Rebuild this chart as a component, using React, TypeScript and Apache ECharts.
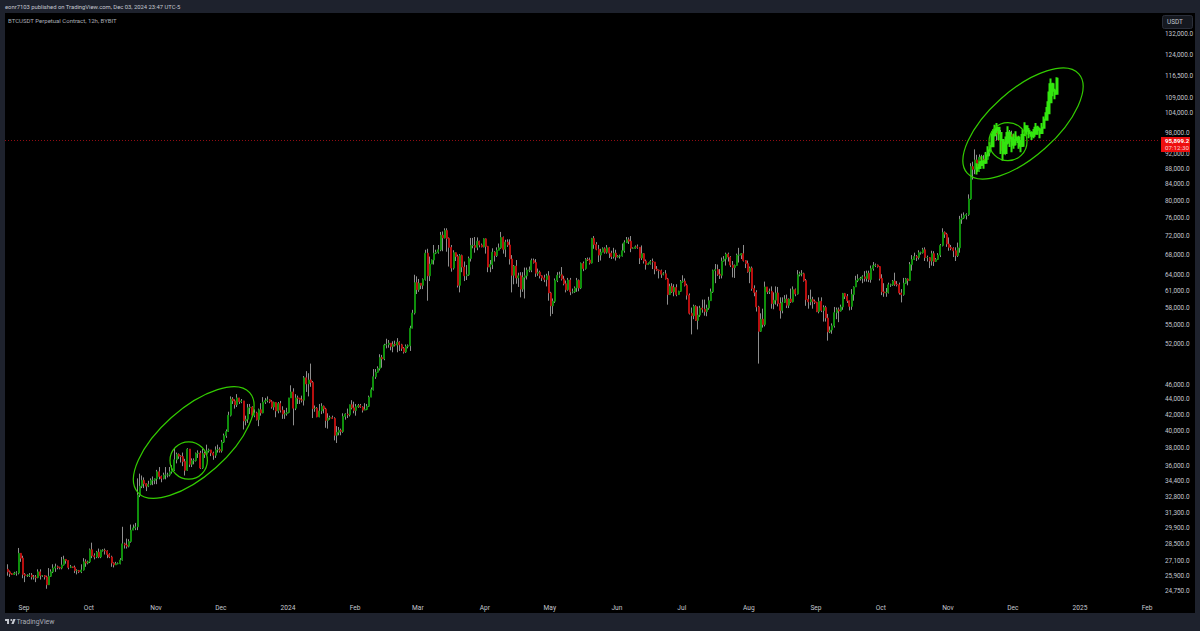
import React, { useEffect, useRef } from "react";
import * as echarts from "echarts";

const FIRST_DAY = "2023-08-24";
const closes = [
  /* Aug 23 */ 26.2,26.05,26.0,26.1,26.1,27.7,27.3,26.0,
  /* Sep 23 */ 25.9,25.9,25.95,25.8,25.8,25.75,26.2,25.9,25.9,25.8,25.2,25.85,26.2,26.5,26.6,26.55,26.5,26.75,27.2,27.1,26.55,26.6,26.55,26.3,26.3,26.2,26.35,27.0,26.9,27.0,
  /* Oct 23 */ 28.0,27.5,27.4,27.8,27.4,27.95,27.95,27.9,27.6,27.4,26.9,26.75,26.85,26.85,27.15,28.5,28.4,28.3,28.7,29.7,29.9,30.0,33.0,33.9,34.5,34.15,33.9,34.1,34.5,34.5,34.65,
  /* Nov 23 */ 35.4,34.9,34.7,35.05,35.05,35.05,35.4,35.6,36.7,37.3,37.1,37.05,36.5,35.55,37.9,36.2,36.6,36.6,37.4,37.45,35.8,37.4,37.3,37.7,37.8,37.45,37.2,37.8,37.85,37.7,
  /* Dec 23 */ 38.7,39.45,39.95,41.95,44.05,43.8,43.3,44.2,43.7,43.8,41.25,41.45,42.9,43.0,41.95,42.25,41.4,42.65,42.25,43.65,43.85,43.95,43.7,43.0,43.6,42.5,43.45,42.6,42.1,42.15,42.3,
  /* Jan 24 */ 44.2,45.0,42.85,44.2,44.15,43.95,43.9,46.95,46.1,46.65,46.3,42.8,42.85,41.75,42.5,43.1,42.75,41.3,41.6,41.65,41.55,39.5,39.85,40.1,39.95,41.8,42.1,42.0,43.3,42.9,42.55,
  /* Feb 24 */ 43.05,43.2,43.0,42.6,42.7,43.1,44.3,45.3,47.1,47.75,48.3,49.9,49.7,51.8,51.9,52.1,51.6,51.9,51.8,52.25,51.85,51.3,50.75,51.6,51.7,54.5,57.05,62.5,61.2,
  /* Mar 24 */ 62.4,62.0,63.1,68.3,63.8,66.1,66.9,68.3,68.5,69.0,72.1,71.5,73.1,71.4,69.5,65.3,68.4,67.6,62.0,67.8,65.5,63.8,64.0,67.2,69.9,69.9,69.5,70.8,70.0,69.6,71.3,
  /* Apr 24 */ 69.7,65.5,66.0,68.5,67.8,68.9,69.4,71.6,69.1,70.6,70.0,67.1,63.9,65.7,63.4,63.8,61.3,63.5,63.8,64.9,64.9,66.8,66.4,64.3,64.5,63.8,63.4,63.1,63.8,60.6,
  /* May 24 */ 58.3,59.1,62.9,63.9,64.0,63.2,62.3,61.2,63.0,60.8,60.8,61.5,62.9,61.5,66.2,65.2,67.0,66.9,66.3,71.4,70.1,69.1,67.9,68.5,69.2,68.5,69.4,68.3,67.6,68.3,67.5,
  /* Jun 24 */ 67.7,67.7,68.8,70.5,71.1,70.8,69.3,69.3,69.6,69.5,67.3,68.2,66.7,66.0,66.2,66.6,66.5,65.1,64.9,64.8,64.1,64.2,63.2,60.3,61.8,60.8,61.6,60.3,60.9,62.7,
  /* Jul 24 */ 62.8,62.0,60.2,57.0,56.6,58.2,55.8,56.7,57.9,57.7,57.3,57.9,59.2,60.8,64.8,65.0,64.1,63.9,66.7,67.1,68.1,67.5,65.9,65.4,65.8,67.9,67.9,68.2,66.8,66.2,64.6,
  /* Aug 24 */ 65.3,61.4,60.7,58.1,54.0,56.0,55.1,61.7,60.8,60.9,58.7,59.3,60.6,58.7,57.5,58.9,59.5,58.4,59.5,59.0,61.2,60.4,64.0,64.2,64.2,62.9,59.4,59.0,59.4,59.1,58.9,
  /* Sep 24 */ 57.3,59.1,57.5,58.0,56.2,53.9,54.2,54.9,57.1,57.6,57.4,58.1,60.5,60.0,59.2,58.2,60.3,61.7,62.9,63.2,63.3,63.6,63.3,64.3,63.1,65.2,65.8,65.9,65.6,63.3,
  /* Oct 24 */ 60.8,60.6,60.7,62.1,62.1,62.8,62.2,62.1,60.6,60.3,62.4,63.2,62.9,66.0,67.0,67.6,67.4,68.4,68.4,69.0,67.4,67.4,66.7,68.2,66.6,67.0,67.9,69.9,72.7,72.3,70.2,
  /* Nov 24 */ 69.5,69.3,68.8,67.8,69.4,75.6,75.9,76.5,76.7,80.4,88.6,87.9,90.4,87.3,91.1,90.6,89.8,90.5,92.3,94.3,98.4,98.9,97.7,98.0,93.0,91.9,95.9,95.6,97.5,96.4,
  /* Dec 24 */ 97.2,95.9,95.9,
];
const highs = [
  26.8,26.3,26.1,26.2,26.25,28.15,27.55,27.5,
  26.1,26.0,26.1,26.1,25.95,25.95,26.4,26.4,25.95,25.95,25.9,26.5,26.4,26.8,26.85,26.7,26.6,27.4,27.5,27.2,27.1,26.75,26.6,26.7,26.4,26.35,26.8,27.3,27.2,27.1,
  28.1,28.6,27.7,27.9,28.1,28.0,28.05,28.1,27.95,27.7,27.5,26.95,27.0,26.95,27.3,30.0,28.6,28.95,28.9,30.2,30.2,30.35,34.7,35.2,35.0,34.8,34.2,34.45,34.7,34.9,34.7,
  35.6,35.9,35.0,35.3,35.9,35.3,35.9,36.1,37.95,37.5,37.4,37.2,37.5,36.8,38.0,37.9,36.85,36.85,37.5,37.75,37.7,37.9,37.6,38.4,37.95,37.6,37.6,38.2,38.4,38.1,
  38.95,39.7,40.2,42.4,44.4,44.3,44.0,44.7,44.0,44.05,43.8,41.9,43.4,43.4,43.1,42.7,42.4,42.8,43.5,44.3,44.2,44.4,44.0,43.9,43.7,43.6,43.65,43.8,43.1,42.6,42.9,
  44.2,45.9,45.5,44.7,44.5,44.2,44.5,47.2,47.9,47.6,49.0,46.5,43.2,43.0,43.4,43.5,43.2,42.9,42.2,41.9,41.9,41.7,40.6,40.5,40.3,42.2,42.2,42.8,43.3,43.9,43.7,
  43.4,43.4,43.4,43.1,43.5,43.4,44.5,45.6,48.2,48.2,48.6,50.4,50.3,52.0,52.8,52.6,52.1,52.4,52.5,52.9,52.4,52.0,51.5,51.9,51.9,54.9,57.6,64.0,63.7,
  63.2,62.4,63.3,69.0,69.2,67.6,67.0,70.0,69.0,70.0,72.8,72.9,73.6,73.6,71.6,70.0,68.9,68.2,68.0,68.1,68.0,66.6,65.9,67.6,71.5,71.5,71.7,71.6,70.9,70.3,71.4,
  71.4,69.8,66.9,69.3,68.7,69.5,70.3,72.8,71.8,71.1,71.2,71.2,67.9,65.9,66.9,64.4,64.5,64.5,65.4,65.4,65.6,67.2,67.2,67.1,65.2,64.8,63.9,64.0,64.2,64.7,
  60.8,59.6,63.3,64.5,64.6,65.5,63.8,62.9,63.4,63.4,61.4,61.8,63.4,63.1,66.4,66.6,67.3,67.4,67.4,71.5,71.9,70.6,70.0,69.2,69.5,69.5,70.0,69.5,68.8,69.4,69.0,
  67.9,68.0,70.3,71.0,71.7,71.6,71.9,69.5,69.9,70.1,69.5,69.9,68.3,67.0,66.4,66.9,67.2,65.7,65.7,65.0,65.0,64.5,64.9,63.4,62.3,62.4,62.2,62.2,61.0,63.0,
  63.9,63.3,62.3,60.5,58.0,58.5,58.4,58.2,58.3,59.4,59.4,58.5,59.9,61.4,65.0,66.1,66.0,65.1,67.4,67.7,68.4,68.4,67.7,66.7,66.0,68.2,69.4,68.3,70.0,66.9,66.8,
  65.6,65.6,62.0,61.1,58.3,57.0,57.8,62.7,61.7,61.4,61.8,60.7,61.8,61.7,59.8,59.8,60.2,60.3,59.6,61.4,61.8,61.4,64.9,64.6,64.9,64.4,63.2,60.2,61.2,59.9,59.4,
  59.0,59.8,59.8,58.4,58.3,56.9,54.8,55.3,58.1,58.0,58.0,58.5,60.6,60.6,60.4,59.2,61.3,61.8,63.8,64.1,63.6,63.9,64.7,64.8,64.8,65.8,66.5,66.2,66.0,65.7,
  64.1,62.4,61.5,62.5,62.3,63.0,64.4,62.8,62.5,61.3,63.4,63.4,63.3,66.5,67.9,68.4,67.9,68.9,68.6,69.4,69.5,67.8,67.5,68.8,68.7,67.3,68.3,70.2,73.6,72.9,72.6,
  71.6,70.0,69.5,69.5,70.5,76.4,76.9,77.2,77.0,81.5,89.5,89.9,93.3,91.8,91.9,91.8,91.7,92.6,94.0,94.9,99.0,99.8,99.0,98.7,98.9,94.7,96.7,96.6,98.9,98.7,
  97.8,98.2,96.6,
];
const lows = [
  25.9,25.8,25.95,25.95,25.9,26.0,27.0,25.7,
  25.4,25.8,25.8,25.6,25.6,25.4,25.7,25.6,25.8,25.6,24.9,25.2,25.8,26.1,26.2,26.4,26.4,26.4,26.7,26.85,26.4,26.5,26.5,26.1,26.0,26.1,26.1,26.3,26.6,26.8,
  26.9,27.3,27.2,27.3,27.3,27.3,27.85,27.6,27.3,27.3,26.6,26.55,26.8,26.8,26.8,27.1,28.1,28.1,28.2,28.6,29.7,29.7,29.7,32.8,33.7,33.7,33.4,33.8,34.0,34.0,34.1,
  34.1,34.6,34.3,34.6,34.6,34.8,34.9,35.2,35.5,36.3,36.8,36.4,36.0,35.0,35.5,35.9,35.9,36.2,36.5,36.9,35.7,35.7,36.9,37.2,37.5,37.1,36.7,36.9,37.5,37.5,
  37.5,38.6,39.2,39.9,41.8,43.4,42.8,43.0,43.4,43.5,40.2,40.7,41.0,42.1,41.7,41.7,41.3,40.6,41.9,42.2,43.4,43.6,43.5,42.8,42.6,41.7,42.2,42.3,41.5,41.5,41.9,
  42.2,44.2,40.7,42.6,43.4,43.4,43.6,43.2,45.0,44.4,45.7,41.6,42.4,41.7,41.7,42.1,42.2,40.4,40.3,41.4,41.5,38.9,38.6,39.5,39.5,39.8,41.4,41.6,41.8,42.7,42.2,
  41.9,42.9,42.9,42.3,42.6,42.6,43.0,44.3,45.2,46.8,47.7,48.0,48.4,49.5,51.3,51.4,51.0,50.7,51.6,50.7,50.9,50.9,50.5,50.6,51.3,50.9,54.5,56.8,60.4,
  60.8,61.3,61.3,62.9,59.2,62.8,66.2,66.0,68.1,68.2,68.7,68.7,71.4,68.6,65.6,64.6,65.0,66.7,61.6,60.7,64.5,62.8,63.0,63.8,66.6,69.3,68.4,68.9,69.5,69.5,69.5,
  68.2,64.5,64.5,65.1,66.6,67.5,68.9,69.2,68.2,67.5,69.6,66.0,60.7,62.2,62.3,61.7,59.8,60.8,59.6,63.1,64.5,64.5,66.2,63.6,63.8,63.3,62.8,62.6,61.8,59.2,
  56.5,56.9,58.8,62.6,63.4,62.9,62.0,60.7,61.0,60.2,60.5,60.6,60.8,60.9,61.3,64.7,65.0,66.7,66.0,66.2,69.2,68.9,66.5,66.8,68.8,68.2,68.2,67.3,67.1,67.2,66.8,
  67.4,67.2,67.6,68.4,70.4,70.2,68.5,69.2,69.2,69.2,66.1,66.9,66.2,65.0,65.9,66.0,65.1,64.1,64.7,63.3,63.4,63.9,63.1,58.5,60.7,60.6,60.0,60.0,60.3,60.8,
  62.5,61.8,59.4,56.8,53.5,56.0,55.7,54.3,56.4,57.1,56.6,56.5,57.6,59.3,60.6,62.4,63.8,63.2,63.3,66.6,65.8,66.6,65.5,63.5,63.4,65.8,66.4,67.1,66.6,65.3,64.4,
  62.4,61.0,60.0,57.3,49.0,53.9,54.6,54.8,60.4,60.4,57.8,57.7,58.5,58.2,56.1,57.0,58.8,57.9,57.9,58.8,58.9,60.0,60.3,63.7,63.7,62.7,58.3,57.8,58.4,57.8,58.6,
  57.2,57.0,57.2,55.6,55.6,52.5,53.7,53.6,54.6,56.0,55.5,57.3,57.6,59.5,58.8,57.5,57.6,59.2,61.7,62.6,62.9,62.4,62.7,62.7,62.6,62.5,64.8,65.5,65.4,62.9,
  60.2,59.9,59.9,60.5,61.7,61.9,61.9,61.8,60.3,58.9,60.1,62.3,62.0,62.8,64.8,66.9,66.7,67.0,68.0,68.2,66.7,66.6,65.3,65.8,65.7,66.5,66.9,67.5,69.7,71.5,69.6,
  68.8,68.9,67.5,66.7,67.5,68.4,74.6,75.7,75.6,76.4,80.2,85.2,86.6,86.8,87.2,90.1,89.3,89.4,90.9,91.5,94.2,97.2,95.8,95.7,92.6,90.8,91.7,94.7,95.3,95.7,
  95.9,94.5,93.6,
];

const GHOST_FIRST_DAY = "2024-11-14";
const ghostCloses = [88.2,89.0,89.9,89.6,91.6,93.0,94.2,97.4,98.9,99.6,98.0,96.0,92.3,95.2,98.0,96.5,94.6,96.0,96.6,95.4,94.3,97.4,100.0,98.7,98.0,97.2,97.8,99.6,99.0,98.0,99.6,102.0,104.0,107.5,113.5,111.3,110.3,115.4];
const ghostHighs = [89.5,90.0,91.5,90.5,92.5,94.2,95.3,98.5,100.5,101.0,99.2,97.5,94.0,97.0,100.0,98.5,97.0,97.8,98.5,97.2,96.0,99.0,101.2,100.0,99.5,98.5,99.2,101.0,100.2,99.5,101.0,103.0,106.0,111.0,115.5,114.0,112.0,115.9];
const ghostLows = [86.5,88.0,88.8,88.0,89.8,91.5,93.0,94.0,97.0,98.0,96.0,92.0,90.2,92.0,95.0,94.0,92.5,93.5,94.5,93.5,92.5,94.0,97.5,97.5,96.5,96.0,96.5,98.0,97.5,96.5,98.0,99.5,102.0,104.0,107.5,109.5,108.5,110.5];

const priceTicks = [132000,124000,116500,109000,104000,98000,92000,88000,84000,80000,76000,72000,68000,64000,61000,58000,55000,52000,46000,44000,42000,40000,38000,36000,34400,32800,31300,29900,28500,27100,25900,24750];
const timeTickDates = ["2023-09-01","2023-10-01","2023-11-01","2023-12-01","2024-01-01","2024-02-01","2024-03-01","2024-04-01","2024-05-01","2024-06-01","2024-07-01","2024-08-01","2024-09-01","2024-10-01","2024-11-01","2024-12-01","2025-01-01","2025-02-01"];
const timeTickLabels = ["Sep","Oct","Nov","Dec","2024","Feb","Mar","Apr","May","Jun","Jul","Aug","Sep","Oct","Nov","Dec","2025","Feb"];
const LAST_PRICE = 95899.2;
const LAST_LABEL = "95,899.2";
const COUNTDOWN = "07:12:30";
const PUBLISHED = "eonr7103 published on TradingView.com, Dec 03, 2024 23:47 UTC-5";
const TITLE = "BTCUSDT Perpetual Contract, 12h, BYBIT";

const FONT = "Roboto, 'Liberation Sans', sans-serif";
const FRAME = "#1e222d";
const TEXT = "#c4c7cf";
const ELLIPSE = "#33cc00";
const WICK = "#8e8e8e";
const DAY = 86400000;

const tv = "M14 6H2v6h6v9h6V6zm14 15h-7l6-15h7l-6 15zm-7-9a3 3 0 1 0 0-6 3 3 0 0 0 0 6z";
echarts.graphic.registerShape("tvLogo", echarts.graphic.extendPath(tv, {}) as any);

function rows(first: string, c: number[], h: number[], l: number[], firstOpen: number) {
  const t0 = Date.parse(first + "T12:00:00Z");
  return c.map((v, i) => {
    const o = i === 0 ? firstOpen : c[i - 1];
    return { t: t0 + i * DAY, o: o * 1000, c: v * 1000, h: Math.max(h[i], o, v) * 1000, l: Math.min(l[i], o, v) * 1000 };
  });
}

export default function App() {
  const ref = useRef<HTMLDivElement>(null);
  useEffect(() => {
    const chart = echarts.init(ref.current!, undefined, { renderer: "svg" });
    const candles = rows(FIRST_DAY, closes, highs, lows, 26.4);
    const ghost = rows(GHOST_FIRST_DAY, ghostCloses, ghostHighs, ghostLows, 87.5);
    const tickTimes = timeTickDates.map((d) => Date.parse(d + "T00:00:00Z"));

    const ell = (x: number, y: number, rx: number, ry: number, rotation: number) => ({
      type: "ellipse", x, y, rotation, z: 20, silent: true,
      shape: { cx: 0, cy: 0, rx, ry },
      style: { fill: "none", stroke: ELLIPSE, lineWidth: 1.2 },
    });
    const txt = (x: number, y: number, text: string, size: number, fill: string, weight = "normal") => ({
      type: "text", x, y, z: 30, silent: true,
      style: { text, fill, font: `${weight} ${size}px ${FONT}`, verticalAlign: "middle" },
    });
    const band = (x: number, y: number, width: number, height: number) => ({
      type: "rect", z: 10, silent: true, shape: { x, y, width, height }, style: { fill: FRAME },
    });

    chart.setOption({
      animation: false,
      backgroundColor: "#000000",
      textStyle: { fontFamily: FONT },
      grid: { left: 5, right: 40, top: 13, bottom: 18, containLabel: false },
      xAxis: {
        type: "value",
        scale: true,
        min: Date.UTC(2023, 7, 23, 5),
        max: Date.UTC(2025, 1, 7),
        axisLine: { show: false },
        axisTick: { show: false },
        splitLine: { show: false },
        axisLabel: {
          customValues: tickTimes,
          inside: true,
          margin: 2,
          color: TEXT,
          fontSize: 6.6,
          fontFamily: FONT,
          hideOverlap: false,
          showMinLabel: true,
          showMaxLabel: true,
          formatter: (v: number) => {
            const i = tickTimes.indexOf(v);
            return i >= 0 ? timeTickLabels[i] : "";
          },
        },
      },
      yAxis: {
        type: "log",
        logBase: 10,
        position: "right",
        min: 23150,
        max: 140600,
        axisLine: { show: false },
        axisTick: { show: false },
        splitLine: { show: false },
        minorTick: { show: false },
        axisLabel: {
          customValues: priceTicks,
          margin: 5,
          color: TEXT,
          fontSize: 6.4,
          fontFamily: FONT,
          align: "left",
          hideOverlap: false,
          formatter: (v: number) => Math.round(v).toLocaleString("en-US") + ".0",
        },
      },
      series: [
        {
          type: "candlestick",
          name: "wicks",
          barWidth: 1,
          encode: { x: 0, y: [1, 2, 3, 4] },
          itemStyle: { color: WICK, color0: WICK, borderColor: WICK, borderColor0: WICK, borderWidth: 1 },
          data: candles.map((r) => [r.t, r.o, r.c, r.l, r.h]),
          markLine: {
            silent: true, symbol: "none", label: { show: false },
            lineStyle: { color: "#b80f18", type: [1, 2], width: 0.8 },
            data: [{ yAxis: LAST_PRICE }],
          },
          z: 3,
        },
        {
          type: "candlestick",
          name: "bodies",
          barWidth: 1.5,
          encode: { x: 0, y: [1, 2, 3, 4] },
          itemStyle: { color: "#0f8f0c", color0: "#b80f0f", borderColor: "#0f8f0c", borderColor0: "#b80f0f", borderWidth: 1 },
          data: candles.map((r) => [r.t, r.o, r.c, Math.min(r.o, r.c), Math.max(r.o, r.c)]),
          z: 4,
        },
        {
          type: "candlestick",
          name: "projection",
          barWidth: 2,
          encode: { x: 0, y: [1, 2, 3, 4] },
          itemStyle: { color: "#33e60f", color0: "#33e60f", borderColor: "#33e60f", borderColor0: "#33e60f", borderWidth: 2 },
          data: ghost.map((r) => [r.t, r.o, r.c, r.l, r.h]),
          z: 5,
        },
      ],
      graphic: {
        elements: [
          band(0, 0, 1200, 13),
          band(0, 613, 1200, 18),
          band(0, 0, 5, 631),
          band(1195, 0, 5, 631),
          txt(5, 7, PUBLISHED, 5.85, TEXT),
          txt(8, 20, TITLE, 6, "#a9acb5"),
          { type: "rect", z: 20, silent: true, shape: { x: 1162.5, y: 15.5, width: 30, height: 13, r: 2 }, style: { fill: "#15181f", stroke: "#2a2e39", lineWidth: 1 } },
          txt(1167, 22, "USDT", 6.4, TEXT),
          { type: "rect", z: 20, silent: true, shape: { x: 1161, y: 137, width: 29, height: 15 }, style: { fill: "#ee0f0f" } },
          txt(1165, 140.5, LAST_LABEL, 6.1, "#ffffff", "bold"),
          txt(1165, 147.5, COUNTDOWN, 6.2, "#ffd0d0"),
          { type: "tvLogo", z: 20, silent: true, x: 4.4, y: 617, scaleX: 0.33, scaleY: 0.33, style: { fill: TEXT } },
          txt(16.5, 622, "TradingView", 6.9, "#a9acb5"),
          ell(1023, 123.5, 74.7, 33.2, 0.728),
          ell(1008, 141.7, 19, 19, 0),
          ell(193.7, 442.5, 74.9, 33.5, 0.728),
          ell(188.7, 460.5, 18.7, 18.7, 0),
        ],
      },
    } as any);
    return () => chart.dispose();
  }, []);
  return <div ref={ref} style={{ position: "fixed", left: 0, top: 0, width: 1200, height: 631 }} />;
}
